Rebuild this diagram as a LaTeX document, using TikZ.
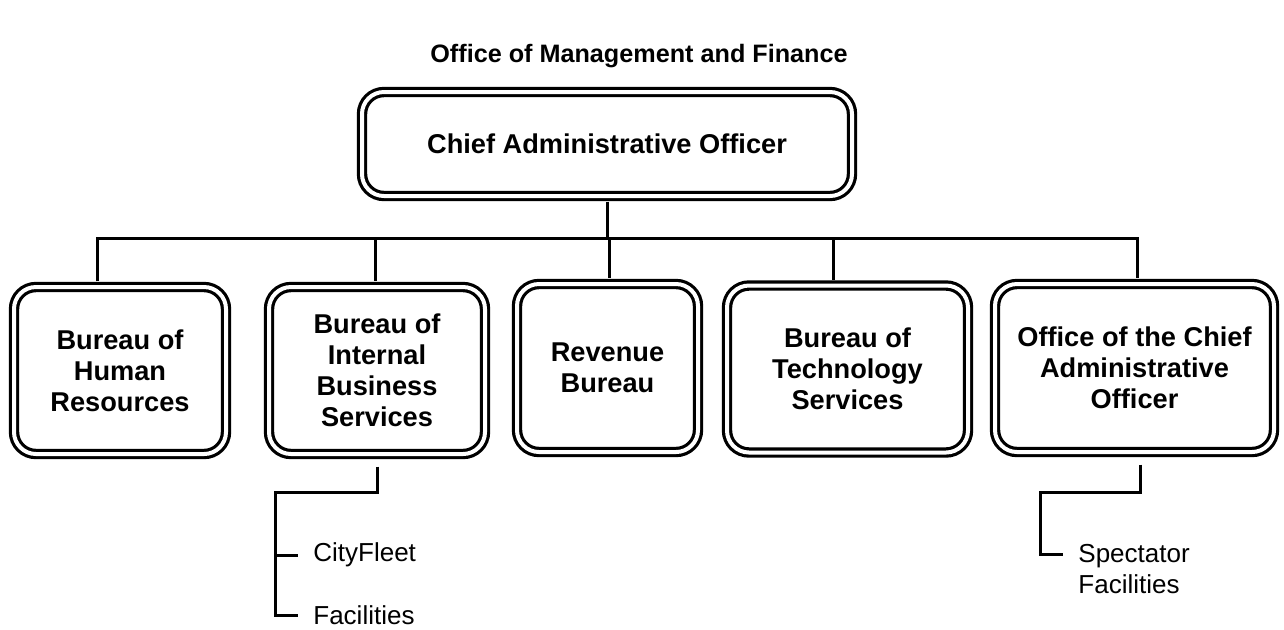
\documentclass[tikz,border=0pt]{standalone}
\usepackage{fontspec}
\setmainfont{Liberation Sans}
\usetikzlibrary{positioning}

\begin{document}
\begin{tikzpicture}[
    x=0.5pt, y=-0.5pt,
    orgbox/.style={draw=black, double=white, line width=1.6pt, double distance=2pt, rounded corners=11pt, rectangle, align=center, inner sep=0pt, minimum height=83.5pt, font=\fontsize{13.6}{15.5}\selectfont\bfseries},
    subunit/.style={anchor=west, align=left, inner xsep=7.5pt, inner ysep=0pt, font=\fontsize{13}{15.5}\selectfont},
    link/.style={draw=black, line width=1.5pt}
]
\useasboundingbox (0,0) rectangle (1284,629);

\node (title) at (639,56) [font=\fontsize{12.6}{15}\selectfont\bfseries] {Office of Management and Finance};
\node (cao) [orgbox, minimum width=245pt, minimum height=52pt] at (607,144) {Chief Administrative Officer};
\node (hr) [orgbox, minimum width=106pt] at (120,370.5) {Bureau of\\Human\\Resources};
\node (ibs) [orgbox, minimum width=108pt] at (377,370.5) {Bureau of\\Internal\\Business\\Services};
\node (rev) [orgbox, minimum width=90.5pt, minimum height=84pt] at (607.5,368) {Revenue\\Bureau};
\node (bts) [orgbox, minimum width=120.5pt] at (847.5,369) {Bureau of\\Technology\\Services};
\node (oca) [orgbox, minimum width=139.5pt, minimum height=84pt] at (1134.5,368) {Office of the Chief\\Administrative\\Officer};

% bus line
\coordinate (busL) at (97,238);
\coordinate (busR) at (1137,238);
\coordinate (dropibs) at (375,238);
\coordinate (droprev) at (609,238);
\coordinate (dropbts) at (833,238);
\draw [link, shorten <=2pt, shorten >=2pt] (busL |- hr.north) -- (busL) -- (busR) -- (busR |- oca.north);
\draw [link, shorten <=2pt] (cao.south) -- (cao.south |- busL);
\draw [link, shorten >=2pt] (dropibs) -- (dropibs |- ibs.north);
\draw [link, shorten >=2pt] (droprev) -- (droprev |- rev.north);
\draw [link, shorten >=2pt] (dropbts) -- (dropbts |- bts.north);

% sub units
\node (fleet) [subunit] at (298,555) {CityFleet};
\node (fac) [subunit] at (298,615) {Facilities};
\node (spec) [subunit] at (1063,569.5) {Spectator\\Facilities};

\coordinate (ibsbend) at (275,492);
\coordinate (ocabend) at (1040,492);
\draw [link, shorten <=5.5pt] (ibs.south) |- (ibsbend) |- (fac.west);
\draw [link] (ibsbend |- fleet.west) -- (fleet.west);
\draw [link, shorten <=5.5pt] ([xshift=2.75pt]oca.south) |- (ocabend) |- ([yshift=7.75pt]spec.west);

\end{tikzpicture}
\end{document}
